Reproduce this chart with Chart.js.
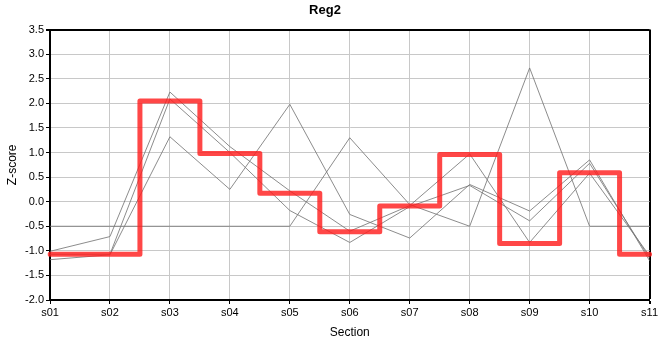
<!DOCTYPE html>
<html lang="en">
<head>
  <meta charset="utf-8">
  <script src="https://cdn.jsdelivr.net/npm/chart.js@4.4.1/dist/chart.umd.min.js"></script>
  <title>Reg2</title>
  <style>
    body { margin: 0; background: #fff; }
  </style>
</head>
<body>
  <canvas id="myChart" width="660" height="360"></canvas>

  <script>
    // sections on the x axis
    var sections = ['s01', 's02', 's03', 's04', 's05', 's06', 's07', 's08', 's09', 's10', 's11'];

    // individual gray profiles
    var profileA = [-0.5, -0.5, -0.5, -0.5, -0.5, 1.30, -0.06, -0.5, 2.72, -0.5, -0.5];
    var profileB = [-1.01, -0.71, 2.23, 1.12, 0.22, -0.60, -0.08, 0.97, -0.83, 0.58, -1.10];
    var profileC = [-1.07, -1.07, 2.09, 1.00, -0.18, -0.83, -0.10, 0.33, -0.39, 0.78, -1.15];
    var profileD = [-1.18, -1.08, 1.32, 0.25, 1.98, -0.26, -0.74, 0.35, -0.19, 0.85, -1.20];

    // red step profile
    var regValues = [-1.07, -1.07, 2.05, 0.98, 0.17, -0.61, -0.09, 0.96, -0.85, 0.59, -1.07];

    var yTicks = { min: -2.0, max: 3.5, step: 0.5 };

    var grayProfiles = [profileA, profileB, profileC, profileD];

    var datasets = grayProfiles.map(function(vals) {
      return {
        data: vals,
        borderColor: 'rgba(120,120,120,0.85)',
        borderWidth: 1,
        pointRadius: 0,
        tension: 0,
        order: 2
      };
    });

    datasets.push({
      data: regValues,
      borderColor: 'rgba(255,30,30,0.82)',
      borderWidth: 5,
      pointRadius: 0,
      stepped: 'middle',
      borderJoinStyle: 'round',
      borderCapStyle: 'round',
      order: 1
    });

    var font = "'Liberation Sans', Arial, sans-serif";

    var config = {
      type: 'line',
      data: { labels: sections, datasets: datasets },
      options: {
        responsive: false,
        animation: false,
        layout: { padding: { left: 0, right: 10, top: 0, bottom: 20 } },
        plugins: {
          legend: { display: false },
          tooltip: { enabled: false },
          title: {
            display: true,
            text: 'Reg2',
            color: '#000',
            font: { family: font, size: 13, weight: 'bold' },
            padding: { top: 3, bottom: 11 }
          }
        },
        scales: {
          x: {
            type: 'category',
            offset: false,
            grid: {
              color: function(ctx) { return ctx.index === sections.length - 1 ? '#000' : '#c8c8c8'; },
              lineWidth: function(ctx) { return ctx.index === sections.length - 1 ? 2 : 1; },
              tickColor: '#000',
              tickLength: 4
            },
            border: { color: '#000', width: 2 },
            ticks: {
              color: '#000',
              font: { family: font, size: 11 },
              maxRotation: 0,
              autoSkip: false,
              padding: 2
            },
            title: {
              display: true,
              text: 'Section',
              color: '#000',
              font: { family: font, size: 12 },
              padding: { top: 4, bottom: 0 }
            },
            afterFit: function(scale) { scale.height = 40; }
          },
          y: {
            min: yTicks.min,
            max: yTicks.max,
            grid: {
              color: function(ctx) { return ctx.tick && ctx.tick.value === yTicks.max ? '#000' : '#c8c8c8'; },
              lineWidth: function(ctx) { return ctx.tick && ctx.tick.value === yTicks.max ? 2 : 1; },
              tickColor: '#000',
              tickLength: 4
            },
            border: { color: '#000', width: 2 },
            ticks: {
              stepSize: yTicks.step,
              color: '#000',
              font: { family: font, size: 11 },
              padding: 2,
              callback: function(v) { return v.toFixed(1); }
            },
            title: {
              display: true,
              text: 'Z-score',
              color: '#000',
              font: { family: font, size: 12 },
              padding: { top: 5, bottom: 0 }
            },
            afterFit: function(scale) { scale.width = 50; }
          }
        }
      }
    };

    var myChart = new Chart(document.getElementById('myChart'), config);
  </script>
</body>
</html>
